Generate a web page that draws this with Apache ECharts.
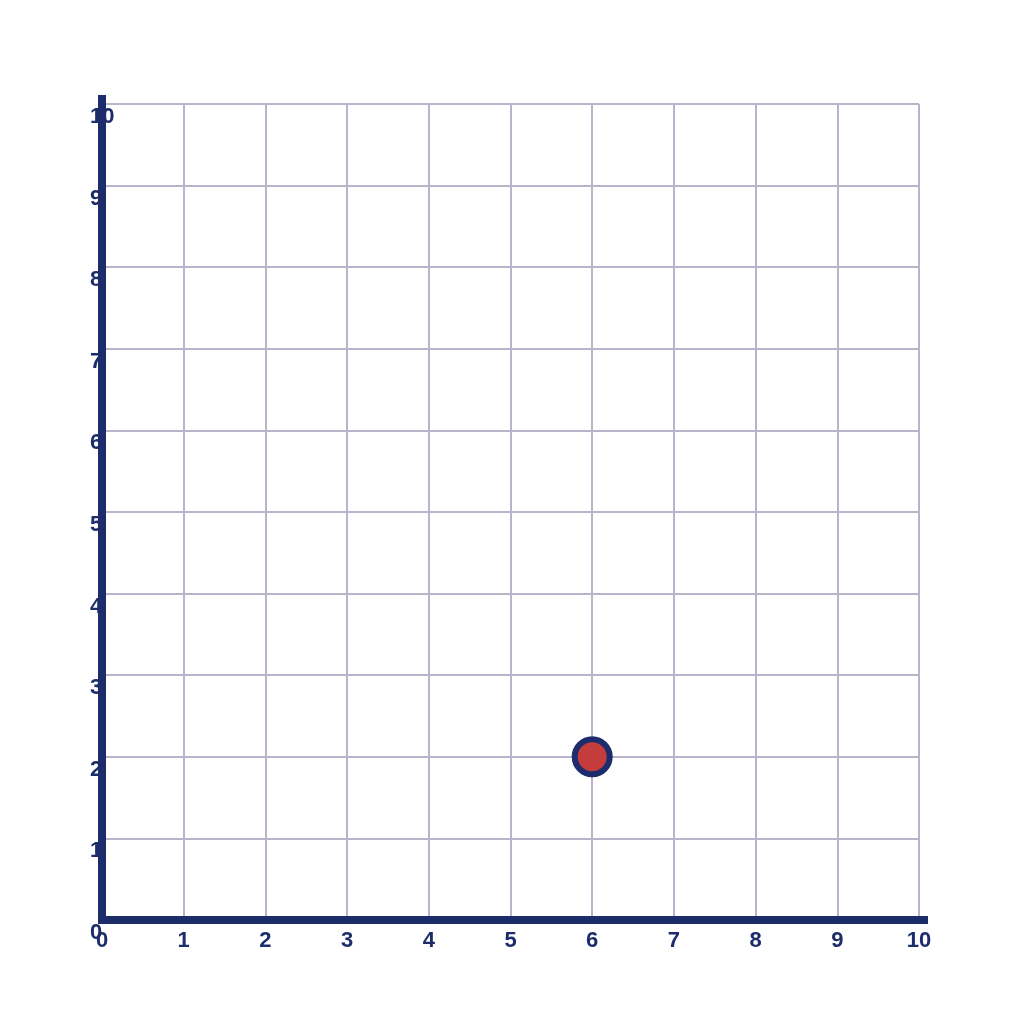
<!DOCTYPE html>
<html>
<head>
<meta charset="utf-8">
<script src="https://cdn.jsdelivr.net/npm/echarts@6/dist/echarts.min.js"></script>
<style>
html, body { margin: 0; padding: 0; background: #fff; }
#chart { width: 1024px; height: 1024px; }
</style>
</head>
<body>
<div id="chart"></div>
<script>
// plotted point(s): [x, y]
var pointX = [6];
var pointY = [2];
// axis range
var axisMin = 0;
var axisMax = 10;
var axisStep = 1;

var navy = '#1d2d6b';
var gridColor = '#b7b4cb';
var labelFont = { color: navy, fontSize: 22, fontWeight: 'bold', fontFamily: 'Liberation Sans, Arial, sans-serif' };

var points = [];
for (var i = 0; i < pointX.length; i++) {
	points.push([pointX[i], pointY[i]]);
}

// thick navy axis line, sticking out a little past the last tick
var axisLineStyle = {
	show: true,
	symbol: ['none', 'rect'],
	symbolSize: [8, 18],
	lineStyle: { color: navy, width: 8, cap: 'square' }
};

var chart = echarts.init(document.getElementById('chart'));
var option = {
	backgroundColor: '#ffffff',
	animation: false,
	grid: { left: 102, right: 105, top: 104, bottom: 104, containLabel: false },
	xAxis: [{
		type: 'value',
		min: axisMin, max: axisMax, interval: axisStep,
		z: 1,
		axisLine: { show: false },
		axisTick: { show: false },
		axisLabel: Object.assign({ margin: 10, verticalAlign: 'top' }, labelFont),
		splitLine: { show: true, lineStyle: { color: gridColor, width: 2 } }
	}, {
		type: 'value',
		position: 'bottom',
		min: axisMin, max: axisMax, interval: axisStep,
		z: 6,
		axisLine: axisLineStyle,
		axisTick: { show: false },
		axisLabel: { show: false },
		splitLine: { show: false }
	}],
	yAxis: [{
		// labels + grid, drawn under the axis line
		type: 'value',
		min: axisMin, max: axisMax, interval: axisStep,
		z: 1,
		axisLine: { show: false },
		axisTick: { show: false },
		axisLabel: Object.assign({ margin: 12, align: 'left', verticalAlign: 'top', padding: [2, 0, 0, 0] }, labelFont),
		splitLine: { show: true, lineStyle: { color: gridColor, width: 2 } }
	}, {
		// axis line only, on top of the labels
		type: 'value',
		position: 'left',
		min: axisMin, max: axisMax, interval: axisStep,
		z: 7,
		axisLine: axisLineStyle,
		axisTick: { show: false },
		axisLabel: { show: false },
		splitLine: { show: false }
	}],
	series: [{
		type: 'scatter',
		data: points,
		symbol: 'circle',
		symbolSize: 35,
		z: 10,
		itemStyle: { color: '#c43c3c', borderColor: navy, borderWidth: 6, opacity: 1 }
	}]
};
chart.setOption(option);
</script>
</body>
</html>
